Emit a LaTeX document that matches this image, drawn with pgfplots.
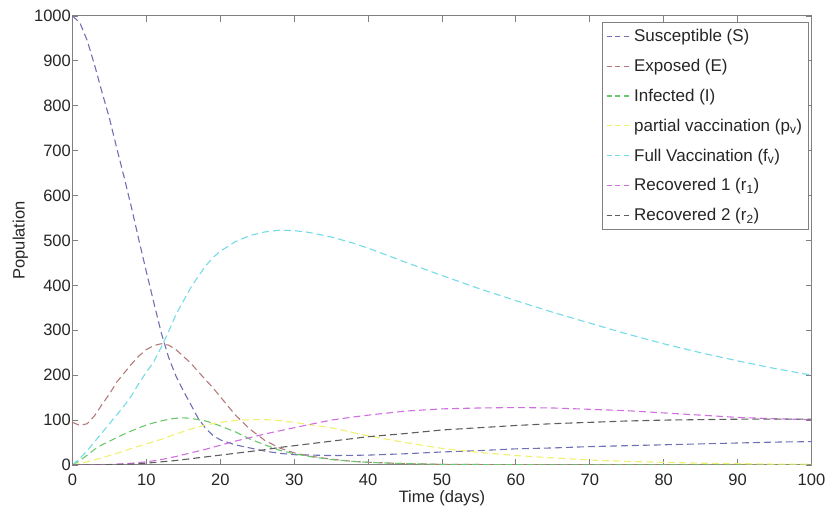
\documentclass[border=0pt]{standalone}
\usepackage{fontspec}
\setmainfont{Liberation Sans}
\usepackage{xcolor}
\usepackage{pgfplots}
\pgfplotsset{compat=1.18}

\definecolor{cS}{HTML}{7070B4}
\definecolor{cE}{HTML}{B47A7A}
\definecolor{cI}{HTML}{6CC86C}
\definecolor{cP}{HTML}{F0F070}
\definecolor{cF}{HTML}{74DCE6}
\definecolor{cR}{HTML}{D070E0}
\definecolor{cT}{HTML}{5E5E5E}
\definecolor{axgray}{HTML}{808080}

\begin{document}
\begin{tikzpicture}
\useasboundingbox (-72.5pt,-51pt) rectangle (755.5pt,465pt);
\begin{axis}[
  at={(0,0)}, anchor=south west,
  scale only axis,
  width=739pt, height=449pt,
  xmin=0, xmax=100, ymin=0, ymax=1000,
  xtick={0,10,...,100},
  ytick={0,100,...,1000},
  tick align=inside,
  tick pos=both,
  major tick length=6pt,
  axis line style={axgray, line width=1pt},
  every tick/.style={axgray, line width=0.9pt},
  /pgf/number format/assume math mode=true,
  /pgf/number format/1000 sep={},
  tick label style={font=\fontsize{16.5}{19}\selectfont, text=black!85},
  yticklabel style={inner sep=1.5pt},
  xticklabel style={inner sep=2pt, yshift=-7pt},
  label style={font=\fontsize{16.5}{19}\selectfont, text=black!85},
  xlabel={Time (days)},
  ylabel={Population},
  xlabel style={at={(axis description cs:0.5,-0.0735)}, anchor=center},
  ylabel style={at={(axis description cs:-0.0704,0.5)}, anchor=center},
  legend style={at={(axis description cs:0.996,0.9866)}, anchor=north east,
    draw=axgray, line width=0.8pt, font=\fontsize{17}{20}\selectfont, text=black!85,
    row sep=12pt, inner xsep=4pt, inner ysep=5pt},
  legend cell align=left,
  legend image code/.code={\draw[#1, line width=1.1pt, dash pattern=on 5pt off 3.5pt] (0pt,0pt) -- (25pt,0pt);},
  every axis plot/.append style={line width=1.1pt, dash pattern=on 7pt off 4pt},
]
% Susceptible
\addplot[cS] coordinates {
(0,1000) (1,985) (2,945) (3,890) (4,830) (5,772) (6,705) (7,640) (8,572) (9,500)
(10,430) (11,362) (12,295) (13,240) (14,198) (15,165) (16,135) (17,104) (18,82) (19,66)
(20,56) (22,45) (24,38) (26,31) (28,26) (30,23) (35,21) (40,22) (45,25) (50,29)
(55,32) (60,36) (65,38) (70,41) (75,43) (80,45) (85,47) (90,49) (95,51) (100,52)};
% Exposed
\addplot[cE] coordinates {
(0,95) (1,88) (2,92) (3,110) (4,135) (5,158) (6,185) (7,205) (8,225) (9,243)
(10,257) (11,266) (12,270) (13,267) (14,257) (15,242) (16,227) (17,208) (18,190) (19,172)
(20,152) (22,112) (24,80) (26,55) (28,38) (30,27) (32,20) (35,13) (38,8) (40,6)
(45,3) (50,1.5) (55,1) (60,0.5) (70,0.3) (80,0.2) (90,0.1) (100,0.1)};
% Infected
\addplot[cI] coordinates {
(0,0) (1,10) (2,22) (3,35) (4,45) (5,53) (6,61) (7,69) (8,76) (9,83)
(10,89) (11,94) (12,98) (13,102) (14,104) (15,105) (16,104) (17,101) (18,98) (19,93)
(20,87) (22,74) (24,58) (26,45) (28,33) (30,25) (32,19) (35,12) (38,8) (40,6)
(45,3) (50,1.5) (55,1) (60,0.5) (70,0.3) (80,0.2) (90,0.1) (100,0.1)};
% partial vaccination
\addplot[cP] coordinates {
(0,0) (2,7) (4,16) (6,26) (8,37) (10,47) (12,57) (14,69) (16,80) (18,89)
(20,95) (22,99) (24,101) (26,101) (28,99) (30,95) (32,90) (35,83) (38,72) (40,65)
(45,50) (50,37) (55,28) (60,21) (65,16) (70,11) (75,8) (80,6) (85,4) (90,3) (95,2) (100,2)};
% Full vaccination
\addplot[cF] coordinates {
(0,0) (1,15) (2,32) (3,52) (4,72) (5,92) (6,112) (7,132) (8,155) (9,182)
(10,207) (11,230) (12,262) (13,297) (14,335) (15,365) (16,395) (17,420) (18,443) (19,462)
(20,476) (22,497) (24,511) (26,519) (28,523) (30,522) (32,518) (35,508) (38,494) (40,483)
(45,452) (50,422) (55,393) (60,366) (65,340) (70,316) (75,292) (80,270) (85,250) (90,232)
(95,215) (100,200)};
% Recovered 1
\addplot[cR] coordinates {
(0,0) (5,1) (8,4) (10,7) (12,12) (14,19) (16,27) (18,35) (20,44) (22,53)
(24,61) (26,69) (28,76) (30,83) (32,90) (35,100) (38,107) (40,111) (45,120) (50,125)
(55,127) (60,128) (65,127) (70,124) (75,121) (80,116) (85,111) (90,106) (95,103) (100,101)};
% Recovered 2
\addplot[cT] coordinates {
(0,0) (5,0.5) (8,2) (10,4) (12,7) (14,10) (16,14) (18,18) (20,22) (22,26)
(24,30) (26,34) (28,39) (30,43) (32,47) (35,53) (38,59) (40,63) (45,70) (50,78)
(55,83) (60,88) (65,92) (70,95) (75,98) (80,100) (85,101) (90,102) (95,102) (100,102)};
\legend{Susceptible (S), Exposed (E), Infected (I),
  partial vaccination (p\textsubscript{v}), Full Vaccination (f\textsubscript{v}),
  Recovered 1 (r\textsubscript{1}), Recovered 2 (r\textsubscript{2})}
\end{axis}
\end{tikzpicture}
\end{document}
